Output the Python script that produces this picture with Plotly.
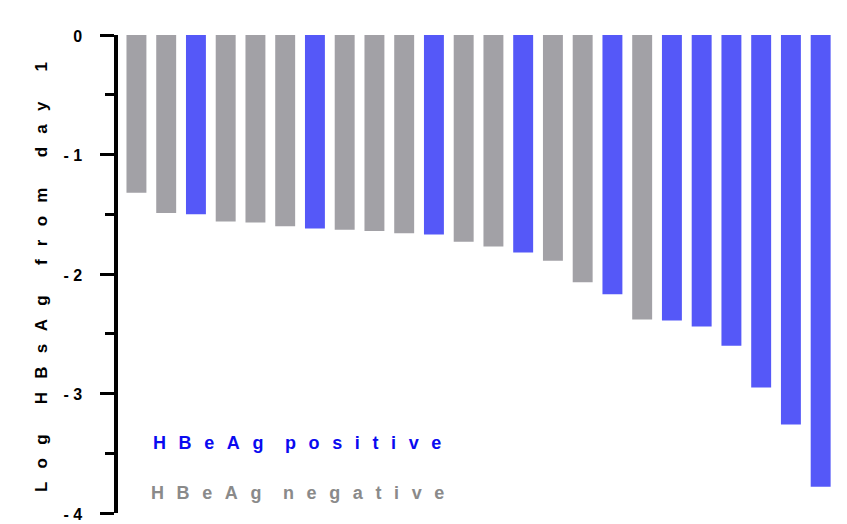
import plotly.graph_objects as go

# Data
values = [-1.32, -1.49, -1.50, -1.56, -1.57, -1.60, -1.62, -1.63, -1.64, -1.66, -1.67, -1.73,
          -1.77, -1.82, -1.89, -2.07, -2.17, -2.38, -2.39, -2.44, -2.60, -2.95, -3.26, -3.78]
status = ["neg", "neg", "pos", "neg", "neg", "neg", "pos", "neg", "neg", "neg", "pos", "neg",
          "neg", "pos", "neg", "neg", "pos", "neg", "pos", "pos", "pos", "pos", "pos", "pos"]
tick_vals = [0, -1, -2, -3, -4]
tick_text = ["0", "-\u00a01", "-\u00a02", "-\u00a03", "-\u00a04"]
minor_vals = [-0.5, -1.5, -2.5, -3.5]

POS_BAR = "#5558F8"
NEG_BAR = "#A2A1A6"
POS_TXT = "#0A0AF0"
NEG_TXT = "#8A8A8A"

def spaced(s, sep="\u2002 ", wsep="\u2003\u2002 "):
    return wsep.join(sep.join(list(w)) for w in s.split(" "))

x = list(range(len(values)))
colors = [POS_BAR if s == "pos" else NEG_BAR for s in status]

# page has an 8px body margin; compensate so the plot lands where the reference has it
W, H = 839, 516
L, T = 110, 27
PW, PH = 840 - 8 - L, 513 - 8 - T

fig = go.Figure()
fig.add_trace(go.Bar(x=x, y=values, marker=dict(color=colors, line=dict(width=0)),
                     width=0.67, showlegend=False))

fig.update_layout(
    width=W, height=H,
    margin=dict(l=L, r=W - L - PW, t=T, b=H - T - PH, autoexpand=False),
    plot_bgcolor="white", paper_bgcolor="white",
    font=dict(family="Liberation Sans, Arial", color="black"),
    xaxis=dict(range=[-0.62, 23.65], visible=False),
    yaxis=dict(
        range=[-4, 0], tickvals=tick_vals, ticktext=tick_text,
        showgrid=False, zeroline=False, showline=True, linewidth=3.5, linecolor="black",
        ticks="outside", ticklen=14, tickwidth=3, tickcolor="black",
        tickfont=dict(size=16, weight="bold", color="black"), ticklabelstandoff=15, ticklabelshift=1,
        ticklabeloverflow="allow",
        minor=dict(tickvals=minor_vals, ticks="outside", ticklen=9, tickwidth=3, tickcolor="black"),
        automargin=False,
    ),
    annotations=[
        dict(xref="paper", yref="paper", x=(41 - 118) / PW, y=(513 - 277) / PH,
             text=spaced("Log HBsAg from day 1"), showarrow=False, textangle=-90,
             xanchor="center", yanchor="middle",
             font=dict(size=17, weight="bold", color="black")),
        dict(xref="paper", yref="y", x=(297 - 118) / PW, y=-3.41,
             text=spaced("HBeAg positive", "\u2002\u2009", "\u2003\u2009"),
             showarrow=False, xanchor="center", yanchor="middle",
             font=dict(size=18, weight="bold", color=POS_TXT)),
        dict(xref="paper", yref="y", x=(297 - 118) / PW, y=-3.83,
             text=spaced("HBeAg negative", "\u2002\u2009", "\u2003\u2009"),
             showarrow=False, xanchor="center", yanchor="middle",
             font=dict(size=18, weight="bold", color=NEG_TXT)),
    ],
)

fig.write_html("out.html")
